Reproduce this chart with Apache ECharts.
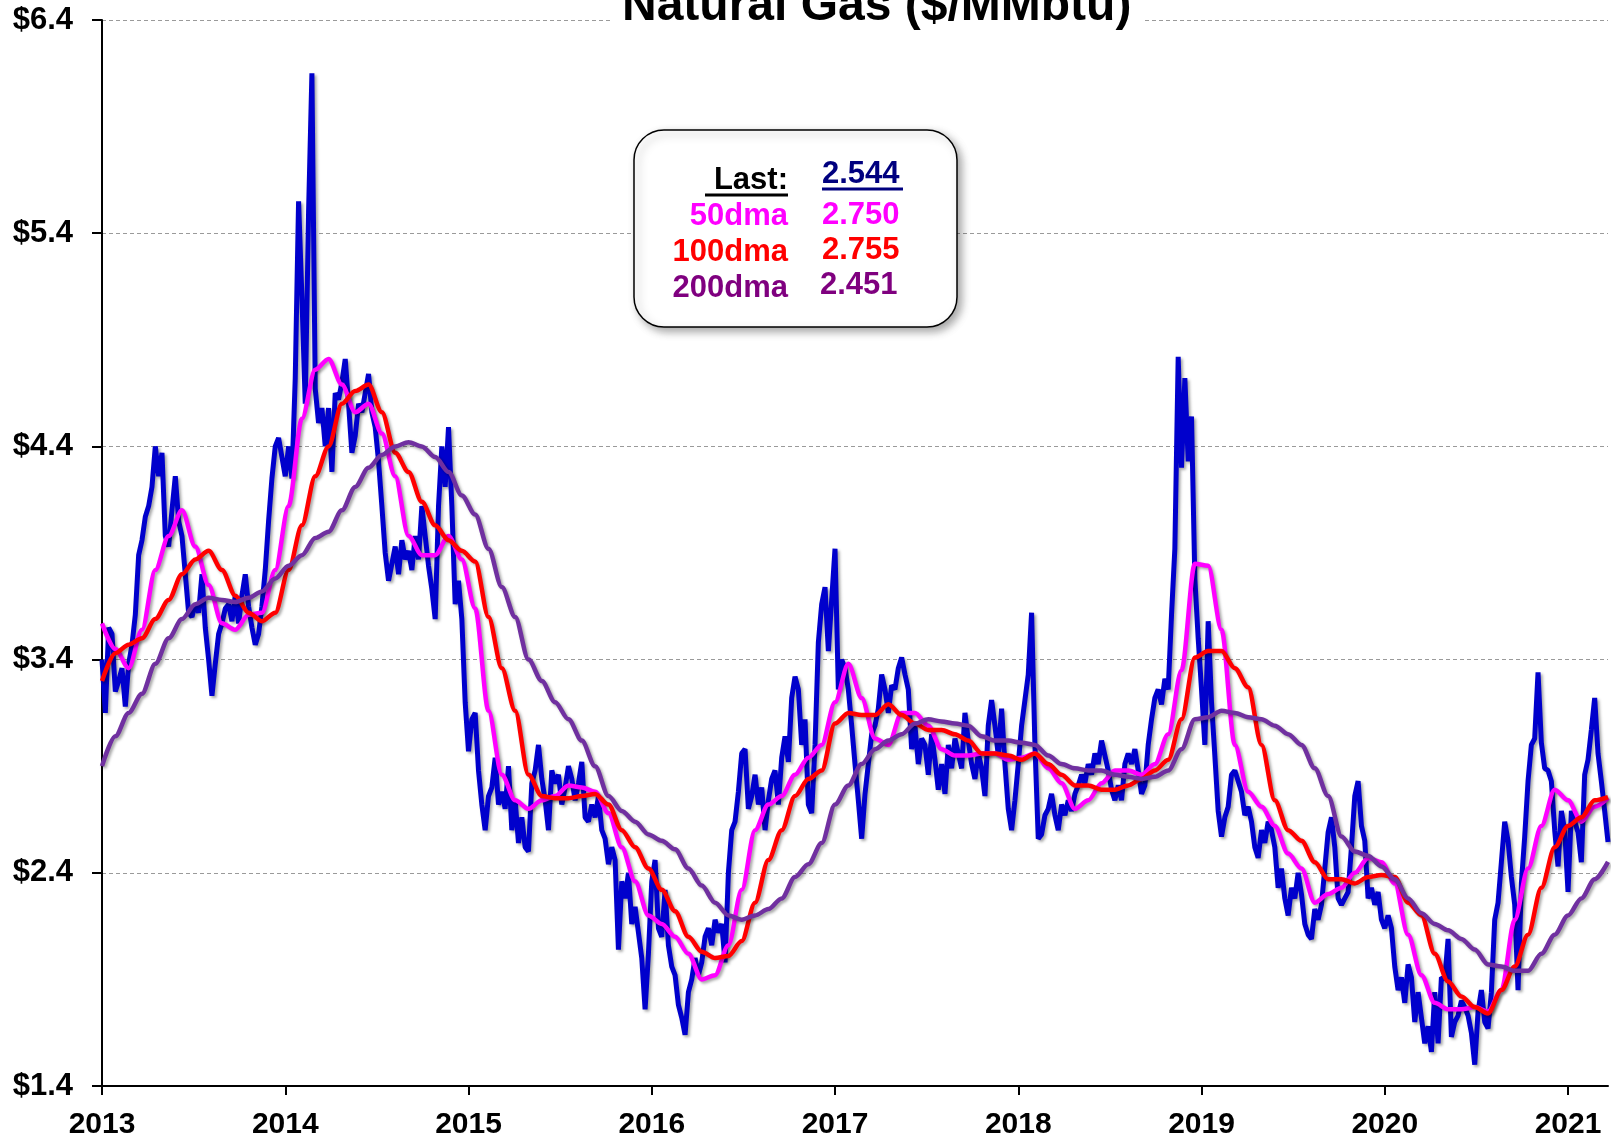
<!DOCTYPE html>
<html>
<head>
<meta charset="utf-8">
<title>Natural Gas ($/MMbtu)</title>
<script src="https://cdn.jsdelivr.net/npm/echarts@6.0.0/dist/echarts.min.js"></script>
<style>
  html, body { margin: 0; padding: 0; background: #fff; }
  #chart { width: 1618px; height: 1140px; }
</style>
</head>
<body>
<div id="chart"></div>
<script>
// sampling: one price point every STEP years, the moving averages every 4th step
const START_YEAR = 2013;
const STEP = 1 / 55;
const MA_EVERY = 4;

// Henry Hub front month
const price2013_14 = [
  3.40, 3.15, 3.55, 3.52, 3.25, 3.30, 3.36, 3.18, 3.38, 3.47,
  3.61, 3.89, 3.96, 4.07, 4.12, 4.21, 4.40, 4.26, 4.37, 3.98,
  3.93, 4.10, 4.26, 4.05, 3.98, 3.80, 3.62, 3.60, 3.66, 3.62,
  3.80, 3.55, 3.40, 3.23, 3.38, 3.52, 3.57, 3.64, 3.66, 3.58,
  3.70, 3.57, 3.70, 3.80, 3.65, 3.55, 3.47, 3.52, 3.65, 3.82,
  4.05, 4.25, 4.40, 4.44, 4.35, 4.26, 4.40, 4.25, 4.72, 5.55,
  5.10, 4.60, 5.50, 6.15, 4.67, 4.51, 4.58, 4.40, 4.58, 4.28,
  4.65, 4.62, 4.70, 4.81, 4.60, 4.37, 4.45, 4.60, 4.56, 4.65,
  4.74, 4.56, 4.49, 4.33, 4.12, 3.90, 3.77, 3.85, 3.93, 3.80,
  3.96, 3.87, 3.91, 3.82, 3.98, 3.87, 4.12, 3.98, 3.84, 3.73,
  3.59, 4.12, 4.40, 4.21, 4.49, 4.12, 3.66, 3.77, 3.59, 3.20,
  2.97
];
const price2015_16 = [
  3.12, 3.15, 2.88, 2.72, 2.60, 2.76, 2.80, 2.94, 2.72, 2.78,
  2.70, 2.90, 2.60, 2.74, 2.54, 2.66, 2.52, 2.50, 2.82, 2.88,
  3.00, 2.84, 2.74, 2.60, 2.88, 2.82, 2.86, 2.72, 2.80, 2.90,
  2.84, 2.74, 2.82, 2.92, 2.66, 2.64, 2.72, 2.66, 2.76, 2.60,
  2.56, 2.44, 2.52, 2.46, 2.04, 2.36, 2.28, 2.40, 2.16, 2.24,
  2.12, 2.00, 1.76, 2.02, 2.36, 2.46, 2.14, 2.10, 2.32, 2.06,
  1.96, 1.92, 1.78, 1.72, 1.64, 1.84, 1.90, 2.00, 1.92, 1.98,
  2.10, 2.14, 2.06, 2.18, 2.12, 2.16, 1.98, 2.40, 2.60, 2.64,
  2.78, 2.96, 2.98, 2.70, 2.76, 2.86, 2.72, 2.80, 2.60, 2.74,
  2.84, 2.88, 2.72, 2.94, 3.04, 2.92, 3.22, 3.32, 3.26, 3.00,
  3.12, 2.72, 2.68, 3.00, 3.48, 3.66, 3.74, 3.44, 3.68, 3.92
];
const price2017_18 = [
  3.26, 3.40, 3.36, 3.26, 3.09, 2.91, 2.74, 2.56, 2.77, 2.91,
  3.05, 3.09, 3.17, 3.33, 3.26, 3.15, 3.28, 3.26, 3.36, 3.41,
  3.33, 3.26, 2.98, 3.09, 2.91, 3.03, 3.00, 2.86, 3.05, 2.93,
  2.79, 2.91, 2.77, 3.00, 2.89, 3.03, 2.96, 2.89, 3.15, 3.02,
  2.91, 2.84, 2.96, 2.89, 2.76, 3.09, 3.21, 3.09, 2.95, 3.17,
  2.91, 2.70, 2.60, 2.74, 2.91, 3.09, 3.21, 3.33, 3.62, 3.00,
  2.56, 2.58, 2.67, 2.70, 2.77, 2.67, 2.60, 2.72, 2.67, 2.74,
  2.69, 2.77, 2.81, 2.86, 2.82, 2.91, 2.86, 2.96, 2.91, 3.02,
  2.95, 2.88, 2.79, 2.74, 2.81, 2.74, 2.91, 2.96, 2.91, 2.98,
  2.88, 2.77, 2.81, 3.00, 3.12, 3.22, 3.26, 3.19, 3.31, 3.26,
  3.61, 3.92, 4.82, 4.30, 4.72, 4.33, 4.54, 3.78, 3.50, 3.26
];
const price2019_21 = [
  3.00, 3.58, 3.20, 2.95, 2.69, 2.57, 2.66, 2.71, 2.86, 2.88,
  2.83, 2.78, 2.67, 2.71, 2.64, 2.52, 2.47, 2.60, 2.54, 2.64,
  2.60, 2.52, 2.33, 2.42, 2.28, 2.20, 2.33, 2.28, 2.40, 2.30,
  2.16, 2.11, 2.09, 2.23, 2.18, 2.25, 2.42, 2.59, 2.66, 2.52,
  2.28, 2.25, 2.28, 2.31, 2.52, 2.76, 2.83, 2.62, 2.55, 2.28,
  2.33, 2.25, 2.31, 2.18, 2.14, 2.20, 2.14, 1.96, 1.85, 1.91,
  1.79, 1.97, 1.91, 1.70, 1.84, 1.72, 1.60, 1.68, 1.56, 1.84,
  1.60, 1.91, 1.90, 2.09, 1.63, 1.70, 1.73, 1.80, 1.77, 1.73,
  1.65, 1.50, 1.75, 1.85, 1.70, 1.67, 1.84, 2.18, 2.26, 2.45,
  2.64, 2.55, 2.38, 2.25, 1.85, 2.35, 2.57, 2.83, 3.00, 3.03,
  3.34, 3.01, 2.89, 2.88, 2.83, 2.60, 2.43, 2.69, 2.60, 2.31,
  2.69, 2.64, 2.59, 2.45, 2.86, 2.93, 3.07, 3.22, 2.96, 2.83,
  2.69, 2.544
];

const ma50 = [
  3.57, 3.45, 3.36, 3.54, 3.82, 3.98, 4.10, 3.93, 3.75, 3.57,
  3.54, 3.61, 3.62, 3.82, 4.12, 4.53, 4.76, 4.81, 4.69, 4.56,
  4.60, 4.46, 4.26, 3.98, 3.89, 3.89, 3.98, 3.87,
  3.64, 3.16, 2.86, 2.74, 2.70, 2.74, 2.76, 2.81, 2.80, 2.78,
  2.68, 2.52, 2.36, 2.20, 2.16, 2.10, 2.02, 1.90, 1.92, 2.06,
  2.32, 2.60, 2.72, 2.76, 2.86, 2.94, 3.00, 3.20,
  3.38, 3.22, 3.03, 3.00, 3.15, 3.15, 3.09, 2.98, 2.95, 2.95,
  2.96, 2.96, 2.93, 2.94, 2.96, 2.89, 2.82, 2.70, 2.74, 2.82,
  2.88, 2.88, 2.86, 2.91, 3.05, 3.35, 3.85,
  3.84, 3.54, 3.00, 2.78, 2.71, 2.62, 2.49, 2.42, 2.26, 2.30,
  2.33, 2.40, 2.47, 2.45, 2.35, 2.11, 1.92, 1.79, 1.76, 1.76,
  1.77, 1.75, 1.85, 2.18, 2.42, 2.62, 2.79, 2.74, 2.64, 2.71,
  2.75
];
const ma100 = [
  3.30, 3.43, 3.47, 3.50, 3.59, 3.68, 3.80, 3.87, 3.91, 3.82,
  3.70, 3.62, 3.58, 3.62, 3.82, 4.03, 4.26, 4.40, 4.60, 4.66,
  4.69, 4.56, 4.37, 4.28, 4.14, 4.03, 3.96, 3.91,
  3.86, 3.60, 3.36, 3.16, 2.86, 2.76, 2.75, 2.75, 2.76, 2.77,
  2.72, 2.60, 2.52, 2.42, 2.32, 2.22, 2.10, 2.03, 2.00, 2.01,
  2.08, 2.26, 2.46, 2.60, 2.76, 2.84, 2.88, 3.10,
  3.15, 3.14, 3.14, 3.19, 3.14, 3.10, 3.07, 3.07, 3.05, 3.02,
  2.96, 2.96, 2.95, 2.93, 2.96, 2.91, 2.86, 2.81, 2.81, 2.79,
  2.79, 2.81, 2.84, 2.88, 2.93, 3.12, 3.41,
  3.44, 3.44, 3.36, 3.27, 3.00, 2.74, 2.60, 2.55, 2.45, 2.37,
  2.37, 2.35, 2.38, 2.39, 2.38, 2.26, 2.20, 2.02, 1.89, 1.82,
  1.77, 1.74, 1.85, 1.96, 2.11, 2.33, 2.52, 2.62, 2.66, 2.74,
  2.755
];
const ma200 = [
  2.90, 3.04, 3.15, 3.24, 3.38, 3.50, 3.59, 3.66, 3.69, 3.68,
  3.67, 3.69, 3.72, 3.78, 3.84, 3.89, 3.97, 4.00, 4.10, 4.21,
  4.30, 4.36, 4.40, 4.42, 4.40, 4.35, 4.28, 4.17,
  4.08, 3.92, 3.74, 3.60, 3.40, 3.30, 3.20, 3.12, 3.02, 2.90,
  2.76, 2.69, 2.64, 2.58, 2.55, 2.51, 2.42, 2.34, 2.26, 2.20,
  2.18, 2.20, 2.23, 2.28, 2.38, 2.44, 2.54, 2.72,
  2.81, 2.91, 2.98, 3.02, 3.05, 3.10, 3.12, 3.11, 3.10, 3.09,
  3.04, 3.02, 3.02, 3.01, 3.00, 2.95, 2.91, 2.89, 2.88, 2.88,
  2.86, 2.85, 2.84, 2.85, 2.88, 2.98, 3.12,
  3.13, 3.16, 3.15, 3.13, 3.12, 3.09, 3.05, 3.00, 2.89, 2.76,
  2.57, 2.50, 2.48, 2.43, 2.37, 2.28, 2.21, 2.16, 2.13, 2.09,
  2.04, 1.97, 1.96, 1.94, 1.94, 2.02, 2.11, 2.20, 2.28, 2.37,
  2.451
];

const yearTicks = [2013, 2014, 2015, 2016, 2017, 2018, 2019, 2020, 2021];
const priceTicks = [1.4, 2.4, 3.4, 4.4, 5.4, 6.4];

// the "Last:" box
const boxLabels = ['Last:', '50dma', '100dma', '200dma'];
const boxValues = ['2.544', '2.750', '2.755', '2.451'];
const boxColors = ['#000000', '#ff00ff', '#ff0000', '#7f007f'];
const valueColors = ['#00007f', '#ff00ff', '#ff0000', '#7f007f'];

const price = [].concat(price2013_14, price2015_16, price2017_18, price2019_21);
const endYear = START_YEAR + (price.length - 1) * STEP;

function toPoints(arr, every) {
  return arr.map((v, i) => [START_YEAR + i * every * STEP, v]);
}

const FONT = '"Liberation Sans", Arial, sans-serif';
const boxFont = 'bold 31px ' + FONT;

const chart = echarts.init(document.getElementById('chart'));

const shadow = {
  shadowColor: 'rgba(0,0,0,0.35)',
  shadowBlur: 3,
  shadowOffsetX: 2,
  shadowOffsetY: 2
};

const graphic = [{
  type: 'rect',
  shape: { x: 634, y: 130, width: 323, height: 197, r: 30 },
  style: {
    fill: '#fff', stroke: '#000', lineWidth: 1.5,
    shadowColor: 'rgba(0,0,0,0.35)', shadowBlur: 8, shadowOffsetX: 4, shadowOffsetY: 4
  },
  z: 100
}];
const labelMid = [180, 216, 252, 288];
const valueMid = [174, 215, 250, 285];
boxLabels.forEach((t, k) => {
  graphic.push({
    type: 'text', x: 788, y: labelMid[k], z: 101,
    style: { text: t, font: boxFont, fill: boxColors[k], align: 'right', verticalAlign: 'middle' }
  });
  graphic.push({
    type: 'text', x: k === 3 ? 820 : 822, y: valueMid[k], z: 101,
    style: { text: boxValues[k], font: boxFont, fill: valueColors[k], align: 'left', verticalAlign: 'middle' }
  });
});
graphic.push(
  { type: 'line', z: 101, shape: { x1: 705, y1: 195, x2: 788, y2: 195 }, style: { stroke: '#000', lineWidth: 3 } },
  { type: 'line', z: 101, shape: { x1: 822, y1: 189, x2: 903, y2: 189 }, style: { stroke: '#00007f', lineWidth: 3 } }
);

chart.setOption({
  animation: false,
  backgroundColor: '#fff',
  title: {
    text: 'Natural Gas ($/MMbtu)',
    left: 610,
    top: -17,
    padding: [0, 12],
    backgroundColor: '#fff',
    textStyle: { fontFamily: FONT, fontSize: 48, fontWeight: 'bold', color: '#000', lineHeight: 48 }
  },
  grid: { left: 102, right: 10, top: 20, bottom: 54, containLabel: false },
  xAxis: {
    type: 'value',
    min: yearTicks[0],
    max: endYear,
    interval: 1,
    axisLine: { onZero: false, lineStyle: { color: '#000', width: 2 } },
    axisTick: { length: 9, lineStyle: { color: '#000', width: 2 } },
    axisLabel: {
      margin: 24, showMaxLabel: false,
      fontFamily: FONT, fontSize: 30, fontWeight: 'bold', color: '#000',
      formatter: v => String(Math.round(v))
    },
    splitLine: { show: false }
  },
  yAxis: {
    type: 'value',
    min: priceTicks[0],
    max: priceTicks[priceTicks.length - 1],
    interval: 1,
    axisLine: { show: true, lineStyle: { color: '#000', width: 2 } },
    axisTick: { show: true, length: 10, lineStyle: { color: '#000', width: 2 } },
    axisLabel: {
      margin: 29,
      fontFamily: FONT, fontSize: 31, fontWeight: 'bold', color: '#000',
      formatter: v => '$' + v.toFixed(1)
    },
    splitLine: { show: true, lineStyle: { color: '#9a9a9a', width: 1, type: [4, 3] } }
  },
  series: [
    {
      name: 'Natural Gas', type: 'line', showSymbol: false,
      data: toPoints(price, 1),
      lineStyle: Object.assign({ color: '#0000cc', width: 5 }, shadow),
      z: 2
    },
    {
      name: '50dma', type: 'line', showSymbol: false, smooth: 0.3, smoothMonotone: 'x',
      data: toPoints(ma50, MA_EVERY),
      lineStyle: Object.assign({ color: '#ff00ff', width: 4.5 }, shadow),
      z: 3
    },
    {
      name: '100dma', type: 'line', showSymbol: false, smooth: 0.3, smoothMonotone: 'x',
      data: toPoints(ma100, MA_EVERY),
      lineStyle: Object.assign({ color: '#ff0000', width: 4.5 }, shadow),
      z: 4
    },
    {
      name: '200dma', type: 'line', showSymbol: false, smooth: 0.3, smoothMonotone: 'x',
      data: toPoints(ma200, MA_EVERY),
      lineStyle: Object.assign({ color: '#7030a0', width: 4.5 }, shadow),
      z: 5
    }
  ],
  graphic: graphic
});
</script>
</body>
</html>
